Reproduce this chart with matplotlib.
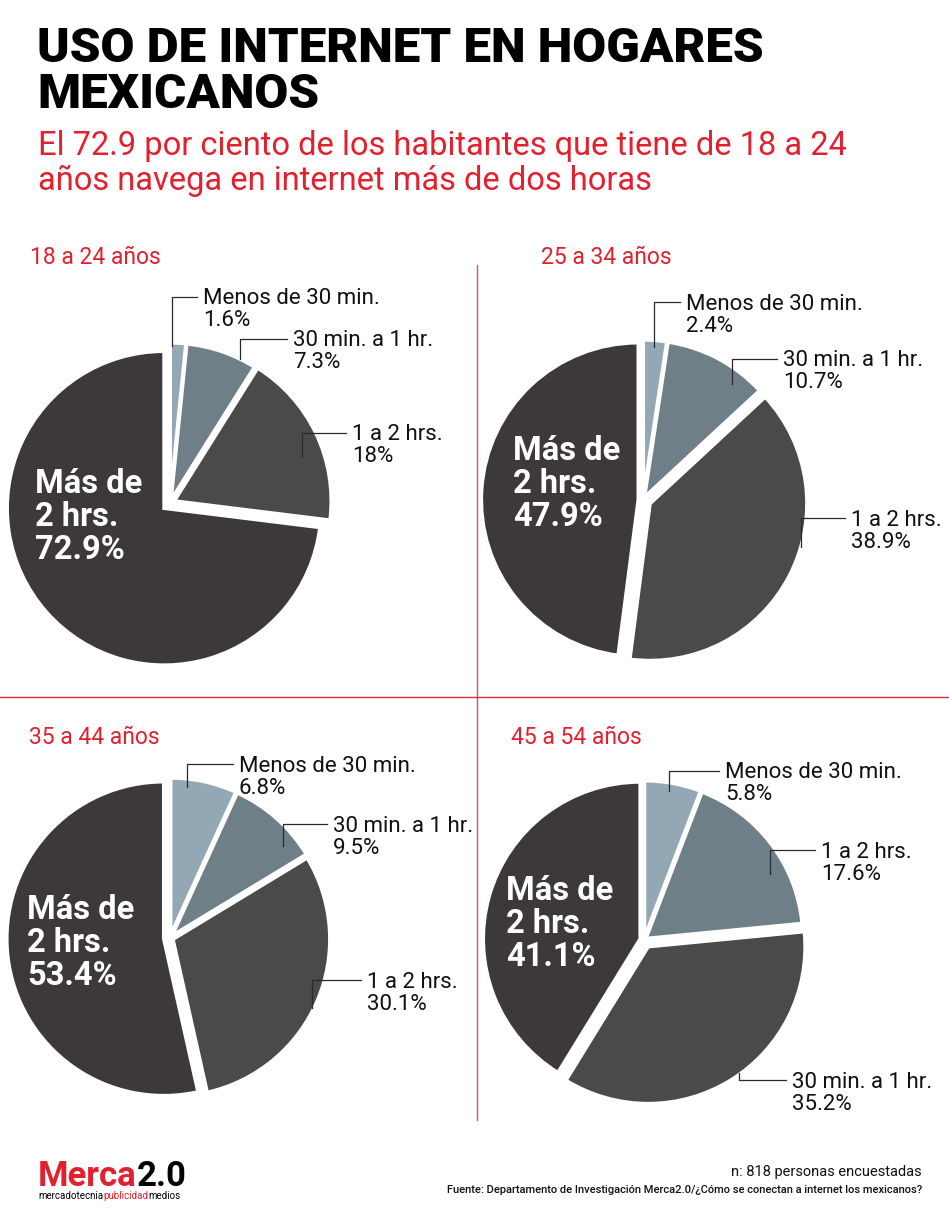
import numpy as np
import matplotlib.pyplot as plt

# Datos
grupos = ['18 a 24 años', '25 a 34 años', '35 a 44 años', '45 a 54 años']
etiquetas_a = ['Menos de 30 min.', '30 min. a 1 hr.', '1 a 2 hrs.', 'Más de 2 hrs.']
etiquetas_b = ['Menos de 30 min.', '1 a 2 hrs.', '30 min. a 1 hr.', 'Más de 2 hrs.']
valores_18_24 = [1.6, 7.3, 18, 72.9]
valores_25_34 = [2.4, 10.7, 38.9, 47.9]
valores_35_44 = [6.8, 9.5, 30.1, 53.4]
valores_45_54 = [5.8, 17.6, 35.2, 41.1]

titulo = ['USO DE INTERNET EN HOGARES', 'MEXICANOS']
subtitulo = ['El 72.9 por ciento de los habitantes que tiene de 18 a 24',
             'años navega en internet más de dos horas']
nota = 'n: 818 personas encuestadas'
fuente = 'Fuente: Departamento de Investigación Merca2.0/¿Cómo se conectan a internet los mexicanos?'

# Estilo
colores = ['#93a8b4', '#6e7f88', '#4a4a48', '#3d383b']
rojo = '#e3202e'
fam = ['Roboto', 'DejaVu Sans']

W, H = 949, 1215
R = 157

# Paneles: centro en pixeles, explode, posiciones de textos
# notas: (x texto, y texto, fraccion angular, fraccion radial)
paneles = [
    dict(grupo=grupos[0], valores=valores_18_24, etiquetas=etiquetas_a,
         centro=(170, 503), explode=[0.02, 0.02, 0.03, 0.05],
         pos_grupo=(30, 258), pos_grande=(35, 493),
         notas=[(203, 297, 0.12, 0.98), (293, 339, 0.77, 1.0), (352, 433, 0.6, 0.86)]),
    dict(grupo=grupos[1], valores=valores_25_34, etiquetas=etiquetas_a,
         centro=(643, 500), explode=[0.02, 0.02, 0.05, 0.03],
         pos_grupo=(541, 258), pos_grande=(513, 460),
         notas=[(686, 302, 0.49, 0.96), (783, 359, 0.75, 0.91), (851, 518, 0.42, 1.0)]),
    dict(grupo=grupos[2], valores=valores_35_44, etiquetas=etiquetas_a,
         centro=(170, 938), explode=[0.02, 0.02, 0.02, 0.04],
         pos_grupo=(29, 738), pos_grande=(27, 919),
         notas=[(239, 764, 0.25, 0.95), (333, 824, 0.77, 0.91), (367, 980, 0.53, 0.99)]),
    dict(grupo=grupos[3], valores=valores_45_54, etiquetas=etiquetas_b,
         centro=(644, 940), explode=[0.015, 0.015, 0.05, 0.025],
         pos_grupo=(511, 738), pos_grande=(506, 900),
         notas=[(725, 771, 0.46, 0.95), (821, 850, 0.65, 0.89), (792, 1080, 0.47, 0.99)]),
]

fig = plt.figure(figsize=(W / 100, H / 100), dpi=100)
fig.patch.set_facecolor('white')

# Ejes de pasteles
ejes = []
for p in paneles:
    cx, cy = p['centro']
    m = 1.15
    ax = fig.add_axes([(cx - m * R) / W, 1 - (cy + m * R) / H, 2 * m * R / W, 2 * m * R / H])
    cunas, _ = ax.pie(p['valores'], colors=colores, startangle=90, counterclock=False,
                      explode=p['explode'], radius=1,
                      wedgeprops=dict(edgecolor='white', linewidth=2.6))
    ax.set_xlim(-m, m)
    ax.set_ylim(-m, m)
    ax.axis('off')
    ejes.append((ax, cunas))

# Capa superior en pixeles
ov = fig.add_axes([0, 0, 1, 1])
ov.set_xlim(0, W)
ov.set_ylim(H, 0)
ov.axis('off')

# Titulo y subtitulo
for i, ln in enumerate(titulo):
    ov.text(37, 62 + 46 * i, ln, fontsize=35.5, fontweight=900, family=fam,
            color='black', va='baseline', ha='left')
for i, ln in enumerate(subtitulo):
    ov.text(38, 155 + 35 * i, ln, fontsize=23.5, family=fam, color=rojo, va='baseline')

# Separadores
ov.plot([477, 477], [265, 1120], color='#e0505a', lw=1)
ov.plot([0, W], [697, 697], color='#d2323c', lw=1)

for p, (ax, cunas) in zip(paneles, ejes):
    gx, gy = p['pos_grupo']
    ov.text(gx, gy, p['grupo'], fontsize=16.5, family=fam, color=rojo, va='center')

    # etiqueta grande de la rebanada mayor
    bx, by = p['pos_grande']
    lineas = ['Más de', '2 hrs.', f"{p['valores'][3]:g}%"]
    for i, ln in enumerate(lineas):
        ov.text(bx, by + 33 * i, ln, fontsize=23.5, fontweight='bold', family=fam,
                color='white', va='baseline')

    # etiquetas con lineas guia
    for k, (tx, ty, t, f) in enumerate(p['notas']):
        w = cunas[k]
        ang = np.deg2rad(w.theta2 - t * (w.theta2 - w.theta1))
        px = w.center[0] + f * w.r * np.cos(ang)
        py = w.center[1] + f * w.r * np.sin(ang)
        x0, y0 = ov.transData.inverted().transform(ax.transData.transform((px, py)))
        ov.plot([x0, x0, tx - 6], [y0, ty, ty], color='#2a2a2a', lw=0.9)
        ov.text(tx, ty + 7.5, p['etiquetas'][k], fontsize=16, family=fam,
                color='#111111', va='baseline')
        ov.text(tx, ty + 29.5, f"{p['valores'][k]:g}%", fontsize=16, family=fam,
                color='#111111', va='baseline')

# Logo
t1 = ov.text(38, 1186, 'Merca', fontsize=25, fontweight='bold', family=fam,
             color=rojo, va='baseline')
ov.annotate('2.0', xy=(1, 0), xycoords=t1, va='bottom', ha='left', fontsize=25,
            fontweight='bold', family=fam, color='black')
t2 = ov.text(38, 1199, 'mercadotecnia', fontsize=7, family=fam, color='black', va='baseline')
t3 = ov.annotate('publicidad', xy=(1, 0), xycoords=t2, xytext=(0.2, 0), textcoords='offset points',
                 va='bottom', ha='left', fontsize=7, family=fam, color=rojo)
ov.annotate('medios', xy=(1, 0), xycoords=t3, xytext=(0.2, 0), textcoords='offset points',
            va='bottom', ha='left', fontsize=7, family=fam, color='black')

# Pie de pagina
ov.text(922, 1176, nota, fontsize=10.5, family=fam, color='#111111', ha='right', va='baseline')
ov.text(922, 1193, fuente, fontsize=8, fontweight='medium', family=fam,
        color='#111111', ha='right', va='baseline')

fig.savefig('out.png', dpi=100, facecolor='white')
